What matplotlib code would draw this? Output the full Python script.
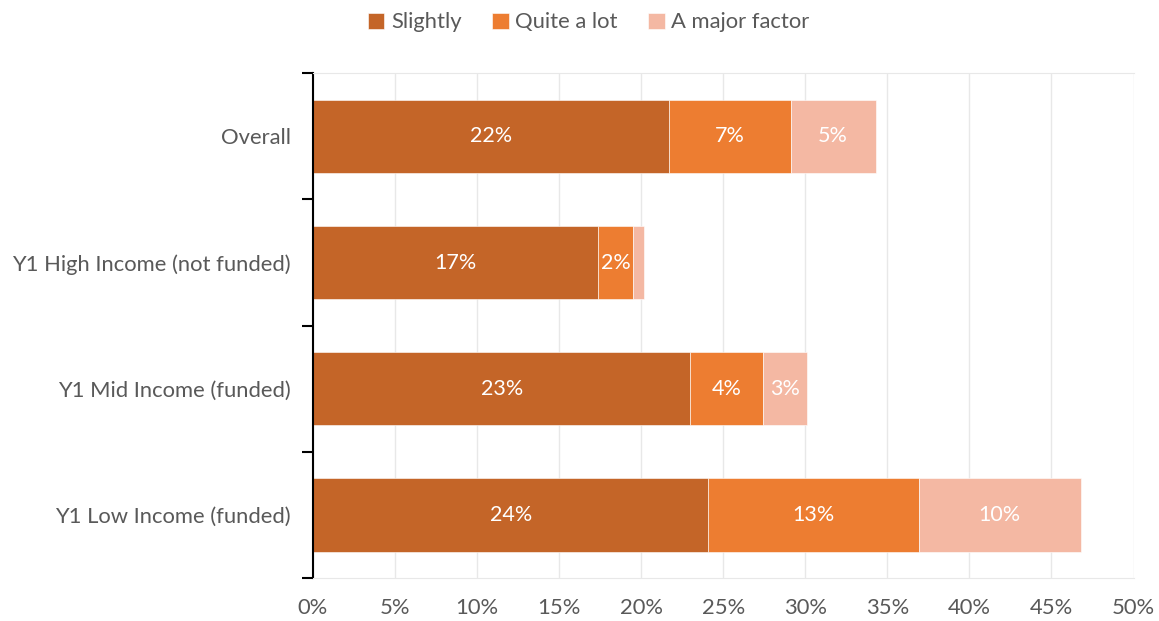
import matplotlib.pyplot as plt
import numpy as np

# Share of respondents by group and degree
groups = ['Overall', 'Y1 High Income (not funded)', 'Y1 Mid Income (funded)', 'Y1 Low Income (funded)']
slightly = [21.7, 17.4, 23.0, 24.1]
quite_a_lot = [7.4, 2.1, 4.4, 12.8]
major_factor = [5.2, 0.7, 2.7, 9.9]
series_names = ['Slightly', 'Quite a lot', 'A major factor']
colors = ['#C46528', '#ED7D31', '#F4B8A3']

plt.rcParams['font.family'] = ['Lato', 'DejaVu Sans']
text_color = '#595959'

fig = plt.figure(figsize=(11.59, 6.21), dpi=100)
ax = fig.add_axes([0.270, 0.069, 0.708, 0.813])

y = np.arange(len(groups))
left = np.zeros(len(groups))
for name, vals, c in zip(series_names, [slightly, quite_a_lot, major_factor], colors):
    vals = np.array(vals)
    ax.barh(y, vals, left=left, height=0.58, color=c, label=name,
            edgecolor='white', linewidth=0.4)
    for yi, l, v in zip(y, left, vals):
        if v >= 1:
            ax.text(l + v / 2, yi, f'{v:.0f}%', ha='center', va='center',
                    color='white', fontsize=15.5)
    left += vals

ax.set_ylim(3.5, -0.5)
ax.set_xlim(0, 50)
ax.set_xticks(np.arange(0, 51, 5))
ax.set_xticklabels([f'{t}%' for t in range(0, 51, 5)])
ax.set_yticks(y)
ax.set_yticklabels(groups)
ax.set_yticks(np.arange(-0.5, 4, 1), minor=True)
ax.tick_params(axis='y', which='major', length=0, pad=16, labelsize=15.8, labelcolor=text_color)
ax.tick_params(axis='y', which='minor', length=8, width=1.5, color='black', direction='out')
ax.tick_params(axis='x', length=0, pad=14, labelsize=15.8, labelcolor=text_color)

ax.grid(axis='x', color='#E8E8E8', linewidth=1)
ax.set_axisbelow(True)
ax.spines['left'].set_color('black')
ax.spines['left'].set_linewidth(1.5)
for s in ['top', 'bottom']:
    ax.spines[s].set_color('#E8E8E8')
ax.spines['right'].set_visible(False)

fig.legend(loc='upper center', bbox_to_anchor=(0.508, 1.012), ncol=3, frameon=False,
           fontsize=15.8, labelcolor=text_color, handlelength=0.75, handleheight=0.75,
           handletextpad=0.3, columnspacing=1.4)

fig.savefig('out.png', dpi=100)
